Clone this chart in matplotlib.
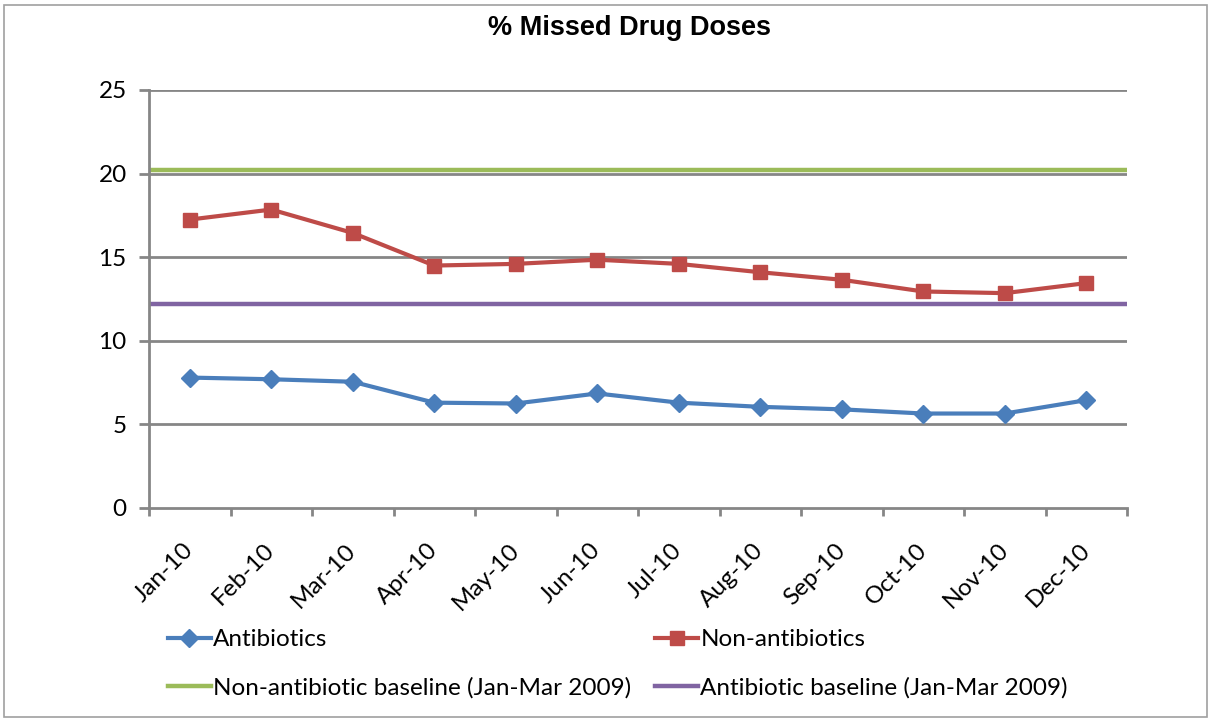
import matplotlib
matplotlib.use('Agg')
import matplotlib.pyplot as plt
from matplotlib.patches import Rectangle
from matplotlib.lines import Line2D

plt.rcParams['font.family'] = ['Lato', 'DejaVu Sans']

months = ['Jan-10', 'Feb-10', 'Mar-10', 'Apr-10', 'May-10', 'Jun-10',
          'Jul-10', 'Aug-10', 'Sep-10', 'Oct-10', 'Nov-10', 'Dec-10']
antibiotics = [7.8, 7.7, 7.55, 6.3, 6.25, 6.85, 6.3, 6.05, 5.9, 5.65, 5.65, 6.45]
non_antibiotics = [17.25, 17.85, 16.45, 14.5, 14.6, 14.85, 14.6, 14.1, 13.65, 12.95, 12.85, 13.45]
non_ab_baseline = 20.2
ab_baseline = 12.2

BLUE = '#4A7EBB'
RED = '#BE4B48'
GREEN = '#9BBB59'
PURPLE = '#8064A2'
GRID = '#868686'
FS = 17.5

fig = plt.figure(figsize=(12.12, 7.2), dpi=100)
ax = fig.add_axes([149/1212, 1-508/720, (1127-149)/1212, (508-90)/720])

x = list(range(len(months)))
ax.set_xlim(-0.5, len(months) - 0.5)
ax.set_ylim(0, 25)

for yv in [5, 10, 15, 20, 25]:
    ax.axhline(yv, color=GRID, lw=2, zorder=1)

ax.axhline(non_ab_baseline, color=GREEN, lw=3.2, zorder=2)
ax.axhline(ab_baseline, color=PURPLE, lw=3.2, zorder=2)
ax.plot(x, antibiotics, color=BLUE, lw=3, marker='D', markersize=9.5, zorder=3)
ax.plot(x, non_antibiotics, color=RED, lw=3, marker='s', markersize=10.5, zorder=3)

for s in ['top', 'right']:
    ax.spines[s].set_visible(False)
for s in ['left', 'bottom']:
    ax.spines[s].set_color(GRID)
    ax.spines[s].set_linewidth(2)

ax.set_yticks([0, 5, 10, 15, 20, 25])
ax.tick_params(axis='y', direction='out', length=7, width=2, color=GRID, labelsize=FS, pad=9)

ax.set_xticks([i - 0.5 for i in range(len(months) + 1)])
ax.set_xticklabels([])
ax.tick_params(axis='x', which='major', direction='out', length=6, width=2, color=GRID)
ax.set_xticks(x, minor=True)
ax.set_xticklabels(months, minor=True, rotation=45, ha='right', va='center',
                   rotation_mode='anchor', fontsize=FS)
ax.tick_params(axis='x', which='minor', length=0, pad=28)

fig.text(629/1212, 1-28/720, '% Missed Drug Doses', ha='center', va='center',
         fontsize=19.5, fontweight='bold', family=['Liberation Sans', 'DejaVu Sans'])

h_b = Line2D([], [], color=BLUE, lw=3, marker='D', markersize=9.5)
h_r = Line2D([], [], color=RED, lw=3, marker='s', markersize=10.5)
h_g = Line2D([], [], color=GREEN, lw=3.2)
h_p = Line2D([], [], color=PURPLE, lw=3.2)
fig.legend([h_b, h_g, h_r, h_p],
           ['Antibiotics', 'Non-antibiotic baseline (Jan-Mar 2009)',
            'Non-antibiotics', 'Antibiotic baseline (Jan-Mar 2009)'],
           ncol=2, loc='upper left', bbox_to_anchor=(168/1212, 1-629/720),
           frameon=False, fontsize=FS, handlelength=1.75, handletextpad=0.1,
           columnspacing=1.0, labelspacing=1.1, borderpad=0, borderaxespad=0)

fig.patches.append(Rectangle((4/1212, 3/720), 1203/1212, 712/720, transform=fig.transFigure,
                             fill=False, edgecolor='#A0A0A0', lw=1.2))

fig.savefig('out.png', dpi=100)
